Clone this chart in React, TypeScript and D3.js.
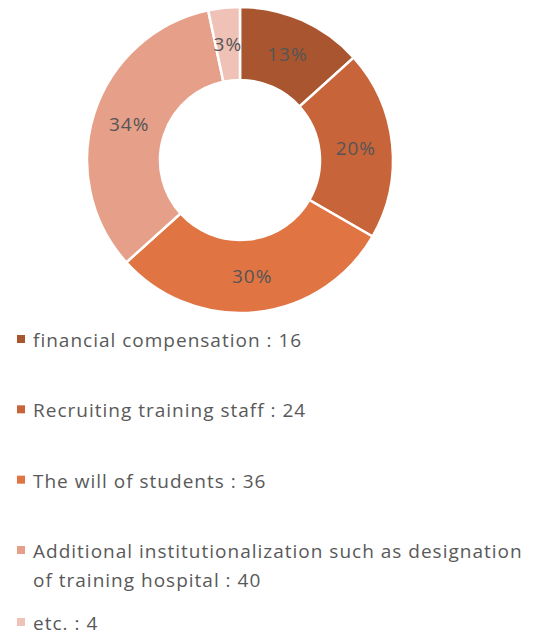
import * as d3 from "d3";
import React from "react";

const categories = [
  "financial compensation",
  "Recruiting training staff",
  "The will of students",
  "Additional institutionalization such as designation of training hospital",
  "etc.",
];
const values = [16, 24, 36, 40, 4];
const pctLabels = ["13%", "20%", "30%", "34%", "3%"];
const colors = ["#a9552f", "#c8643a", "#e07443", "#e6a089", "#f0c2b7"];

const legendLines = [
  ["financial compensation : 16"],
  ["Recruiting training staff : 24"],
  ["The will of students : 36"],
  ["Additional institutionalization such as designation", "of training hospital : 40"],
  ["etc. : 4"],
];

const App = () => {
  const width = 555, height = 636;
  const cx = 240, cy = 160, outer = 153, inner = 80;
  const font = "'Open Sans', 'Noto Sans', sans-serif";

  const pie = d3.pie<number>().sort(null).value((d) => d);
  const arcs = pie(values);
  const arc = d3.arc<d3.PieArcDatum<number>>().innerRadius(inner).outerRadius(outer);

  const legendY = d3.scalePoint<number>().domain([0, 1, 2, 3]).range([340, 551]);
  const rowY = (i: number) => (i < 4 ? legendY(i)! : 623);

  return (
    <svg width={width} height={height} style={{ position: "absolute", left: 0, top: 0 }}>
      <rect width={width} height={height} fill="#fff" />
      <g transform={`translate(${cx},${cy})`}>
        {arcs.map((a, i) => (
          <path key={i} d={arc(a) || ""} fill={colors[i]} stroke="#fff" strokeWidth={2.5} />
        ))}
        {arcs.map((a, i) => {
          const [x, y] = arc.centroid(a);
          return (
            <text key={"t" + i} x={x} y={y} textAnchor="middle" dominantBaseline="central"
              fontFamily={font} fontSize={19} letterSpacing={1} fill="#555">
              {pctLabels[i]}
            </text>
          );
        })}
      </g>
      <g>
        {categories.map((c, i) => (
          <g key={c}>
            <rect x={17} y={rowY(i) - 5} width={8} height={8} fill={colors[i]} />
            {legendLines[i].map((l, j) => (
              <text key={j} x={33} y={rowY(i) + j * 29} dominantBaseline="central"
                fontFamily={font} fontSize={19} letterSpacing={1} fill="#595959">
                {l}
              </text>
            ))}
          </g>
        ))}
      </g>
    </svg>
  );
};

export default App;
